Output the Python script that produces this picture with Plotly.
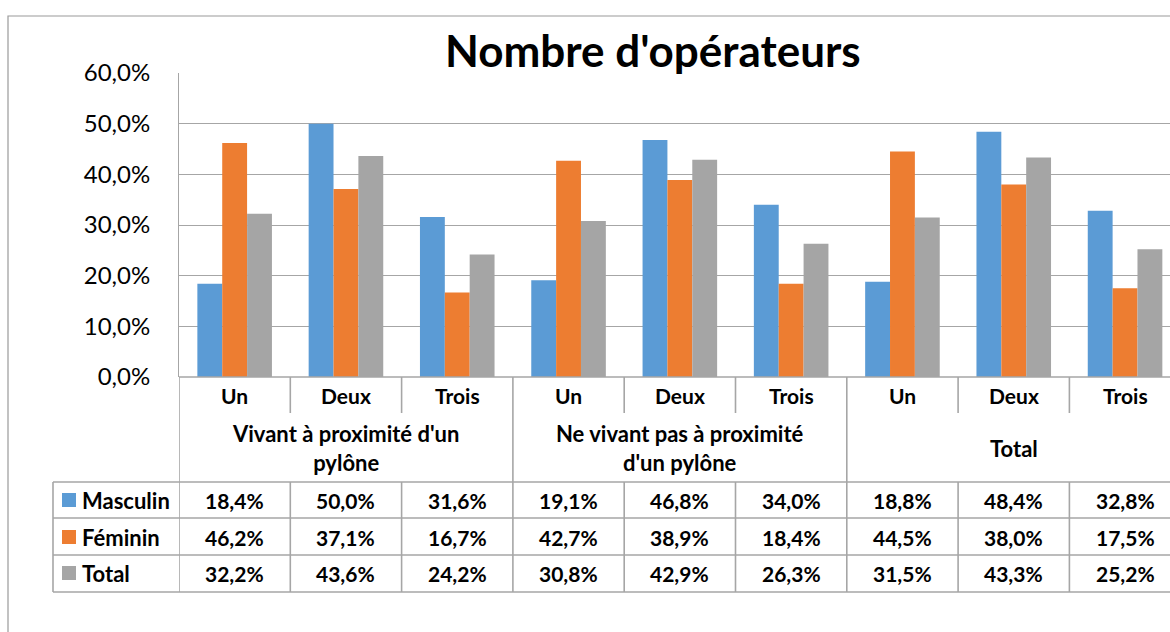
import plotly.graph_objects as go

groups = ["Vivant à proximité d'un<br>pylône", "Ne vivant pas à proximité<br>d'un pylône", "Total"]
categories = ["Un", "Deux", "Trois"]
series_names = ["Masculin", "Féminin", "Total"]
masculin = [18.4, 50.0, 31.6, 19.1, 46.8, 34.0, 18.8, 48.4, 32.8]
feminin = [46.2, 37.1, 16.7, 42.7, 38.9, 18.4, 44.5, 38.0, 17.5]
total = [32.2, 43.6, 24.2, 30.8, 42.9, 26.3, 31.5, 43.3, 25.2]
y_ticks = [0, 10, 20, 30, 40, 50, 60]
title = "Nombre d'opérateurs"

colors = ["#5B9BD5", "#ED7D31", "#A5A5A5"]
series = [masculin, feminin, total]
W, H = 1170, 632
FONT = "Lato"
GRID = "#a6a6a6"

def px(x):
    return x / W

def py(y):
    return 1 - y / H

n = len(groups) * len(categories)
xs = list(range(n))
cat_labels = [categories[i % len(categories)] for i in xs]

fig = go.Figure()
for name, vals, c in zip(series_names, series, colors):
    fig.add_trace(go.Bar(x=xs, y=[v / 100 for v in vals], name=name, marker=dict(color=c, line=dict(width=0))))

plot_left, plot_top, plot_bottom = 179, 73, 377
cat_w = 111.3
x_right = -0.5 + (W - plot_left) / cat_w

fig.update_layout(
    width=W, height=H, margin=dict(l=0, r=0, t=0, b=0, autoexpand=False),
    paper_bgcolor="white", plot_bgcolor="white",
    barmode="group", bargap=0.33, bargroupgap=0,
    showlegend=False, separators=", ",
    font=dict(family=FONT, color="black"),
    xaxis=dict(domain=[px(plot_left), 1], range=[-0.5, x_right], showticklabels=False,
               showgrid=False, zeroline=False, showline=False, fixedrange=True, automargin=False),
    yaxis=dict(domain=[py(plot_bottom), py(plot_top)], range=[0, 0.6],
               tickvals=[t / 100 for t in y_ticks], tickformat=".1%",
               showgrid=True, gridcolor=GRID, gridwidth=1, zeroline=False,
               showline=True, linecolor=GRID, linewidth=1, automargin=False, fixedrange=True,
               ticks="", ticklabelstandoff=23, tickfont=dict(size=24, family=FONT)),
)

shapes = []
ann = []
LW = 1.6

def hline(y, x0p, x1p=1.2):
    shapes.append(dict(type="line", xref="paper", yref="paper", x0=px(x0p), x1=x1p, y0=py(y), y1=py(y),
                       line=dict(color=GRID, width=LW)))

def vline(xd, y0, y1, xref="x"):
    shapes.append(dict(type="line", xref=xref, yref="paper", x0=xd, x1=xd, y0=py(y0), y1=py(y1),
                       line=dict(color=GRID, width=LW)))

shapes.append(dict(type="rect", xref="paper", yref="paper", x0=px(8), x1=1.3, y0=-0.3, y1=py(16),
                   line=dict(color="#9a9a9a", width=1.2), fillcolor="rgba(0,0,0,0)"))

hline(plot_bottom, plot_left)
row_lines = [482, 518, 555, 592]
for y in row_lines:
    hline(y, 53)
vline(px(53), 482, 592, xref="paper")
for i in range(n + 1):
    xd = i - 0.5
    if i % len(categories) == 0:
        vline(xd, plot_bottom, 592)
    else:
        vline(xd, plot_bottom, 413)
        vline(xd, 482, 592)

for i, lab in enumerate(cat_labels):
    ann.append(dict(x=i, y=py(395), xref="x", yref="paper", text="<b>%s</b>" % lab, showarrow=False,
                    font=dict(size=21, family=FONT), xanchor="center", yanchor="middle"))
for g, lab in enumerate(groups):
    cx = g * len(categories) + (len(categories) - 1) / 2
    ann.append(dict(x=cx, y=py(448), xref="x", yref="paper", text="<b>%s</b>" % lab, showarrow=False,
                    font=dict(size=22, family=FONT), xanchor="center", yanchor="middle"))

row_centers = [500, 537, 573]
for r, (name, vals, c) in enumerate(zip(series_names, series, colors)):
    yc = row_centers[r]
    shapes.append(dict(type="rect", xref="paper", yref="paper", x0=px(62), x1=px(76), y0=py(yc + 7), y1=py(yc - 7),
                       fillcolor=c, line=dict(width=0)))
    ann.append(dict(x=px(80), y=py(yc), xref="paper", yref="paper", text="<b>%s</b>" % name, showarrow=False,
                    font=dict(size=22, family=FONT), xanchor="left", yanchor="middle"))
    for i, v in enumerate(vals):
        ann.append(dict(x=i, y=py(yc), xref="x", yref="paper",
                        text="<b>%s%%</b>" % ("%.1f" % v).replace(".", ","), showarrow=False,
                        font=dict(size=21, family=FONT), xanchor="center", yanchor="middle"))

ann.append(dict(x=px(653), y=py(50), xref="paper", yref="paper", text="<b>%s</b>" % title, showarrow=False,
                font=dict(size=44, family=FONT), xanchor="center", yanchor="middle"))

fig.update_layout(shapes=shapes, annotations=ann)
fig.write_html("out.html", config={"displayModeBar": False},
               post_script="document.body.style.margin='0';document.body.style.overflow='hidden';"
                           "document.documentElement.style.overflow='hidden';")
